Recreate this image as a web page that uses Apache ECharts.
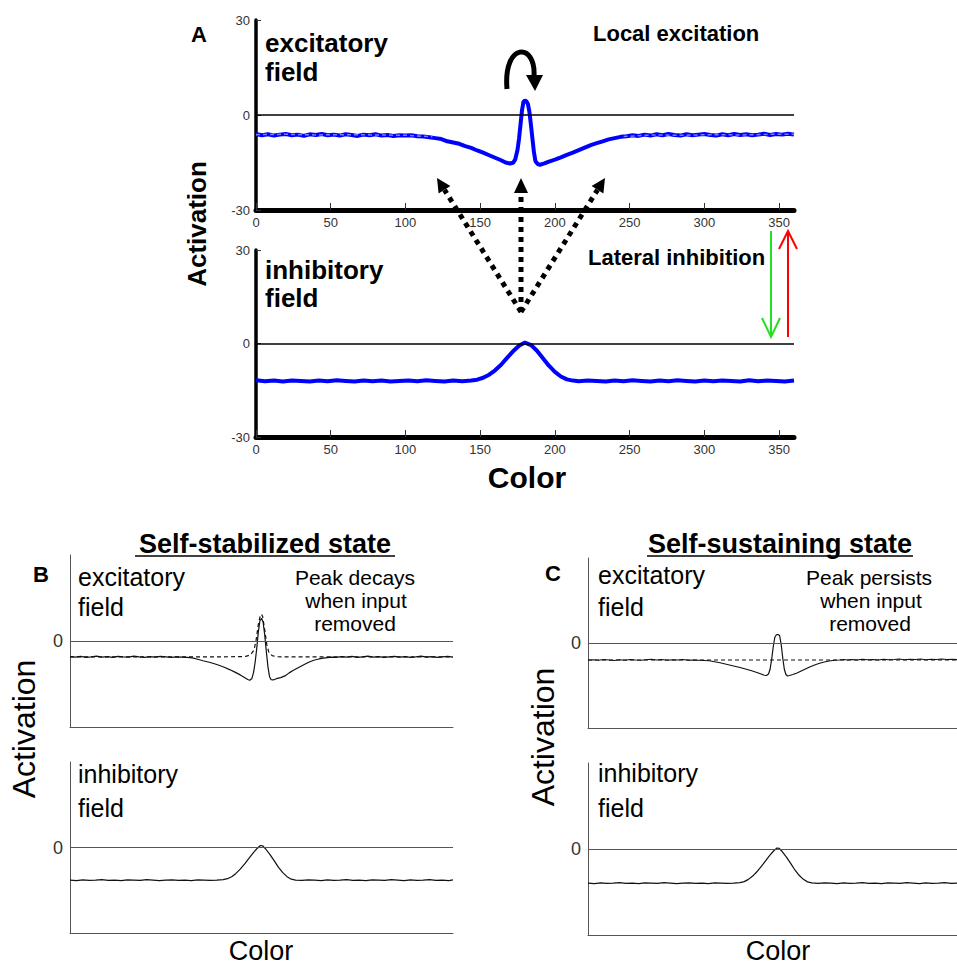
<!DOCTYPE html>
<html>
<head>
<meta charset="utf-8">
<title>Dynamic field activation</title>
<script src="https://cdn.jsdelivr.net/npm/echarts@6/dist/echarts.min.js"></script>
<style>
  html, body { margin: 0; padding: 0; background: #ffffff; }
  #chart { width: 957px; height: 968px; }
</style>
</head>
<body>
<div id="chart"></div>
<script>
// Tick labels
const xTicks = [0, 50, 100, 150, 200, 250, 300, 350];
const yTicksA = [-30, 0, 30];

// Panel A – excitatory field (colour vs activation)
const aExcitatory = [[0,-6.0],[4,-6.4],[8,-6.1],[12,-6.5],[16,-6.2],[20,-6.0],[24,-6.4],[28,-6.2],[32,-6.6],[36,-6.1],[40,-6.3],[44,-6.0],[48,-6.4],[52,-6.2],[56,-6.5],[60,-6.1],[64,-6.3],[68,-6.6],[72,-6.2],[76,-6.4],[80,-6.1],[84,-6.5],[88,-6.3],[92,-6.6],[96,-6.4],[100,-6.5],[104,-6.4],[108,-6.7],[112,-6.8],[116,-7.0],[120,-7.3],[124,-7.6],[128,-8.3],[132,-8.7],[136,-9.1],[140,-9.8],[144,-10.4],[148,-11.2],[152,-11.9],[156,-12.7],[160,-13.5],[164,-14.3],[167,-15.0],[170,-15.3],[172,-15.1],[173.5,-14.0],[175,-11.0],[176,-7.5],[177,-3.0],[178,1.5],[179,4.2],[180,4.6],[181,4.3],[182,3.4],[183,0.8],[184,-3.2],[185,-7.6],[186,-11.8],[187,-14.6],[188.5,-15.5],[190,-15.7],[193,-15.3],[196,-14.7],[200,-14.1],[204,-13.4],[208,-12.6],[212,-11.9],[216,-11.1],[220,-10.3],[224,-9.5],[228,-8.9],[232,-8.3],[236,-7.7],[240,-7.3],[244,-6.9],[248,-6.7],[252,-6.4],[256,-6.6],[260,-6.2],[264,-6.5],[268,-6.1],[272,-6.4],[276,-6.0],[280,-6.3],[284,-6.5],[288,-6.1],[292,-6.4],[296,-6.2],[300,-6.0],[304,-6.3],[308,-6.5],[312,-6.1],[316,-6.4],[320,-6.0],[324,-6.3],[328,-6.1],[332,-6.4],[336,-6.2],[340,-5.9],[344,-6.3],[348,-6.0],[352,-6.2],[356,-5.9],[360,-6.2]];
// Resting level trace, shown where it is not hidden by the peak
const aResting = [[0,-6.2],[20,-6.1],[40,-6.3],[60,-6.2],[80,-6.3],[100,-6.4],[118,-6.9],[180,'-'],[246,-6.8],[265,-6.3],[285,-6.4],[305,-6.2],[325,-6.3],[345,-6.1],[360,-6.1]];
// Panel A – inhibitory field
const aInhibitory = [[0,-11.8],[6,-12.1],[12,-11.9],[18,-12.2],[24,-11.9],[30,-12.0],[36,-12.2],[42,-11.9],[48,-12.1],[54,-11.8],[60,-12.0],[66,-12.2],[72,-11.9],[78,-12.1],[84,-11.9],[90,-12.2],[96,-12.0],[102,-11.9],[108,-12.1],[114,-11.8],[120,-12.0],[126,-12.2],[132,-11.9],[138,-12.1],[144,-11.9],[148,-11.6],[152,-11.0],[156,-10.0],[160,-8.6],[164,-6.8],[168,-4.6],[172,-2.5],[176,-0.7],[180,0.3],[184,-0.5],[188,-2.3],[192,-4.7],[196,-7.1],[200,-9.1],[204,-10.6],[208,-11.5],[212,-11.9],[216,-12.1],[222,-11.9],[228,-12.0],[234,-12.2],[240,-11.9],[246,-12.1],[252,-11.8],[258,-12.0],[264,-12.2],[270,-11.9],[276,-12.1],[282,-11.8],[288,-12.0],[294,-12.2],[300,-11.9],[306,-12.1],[312,-11.9],[318,-12.0],[324,-12.2],[330,-11.8],[336,-12.1],[342,-11.9],[348,-12.0],[354,-12.2],[360,-11.9]];

// Panel B – self-stabilized state
const bExcitatory = [[0,-6.2],[5,-6.4],[10,-6.1],[15,-6.5],[20,-6.3],[25,-6.0],[30,-6.4],[35,-6.2],[40,-6.5],[45,-6.1],[50,-6.3],[55,-6.4],[60,-6.0],[65,-6.3],[70,-6.5],[75,-6.2],[80,-6.4],[85,-6.1],[90,-6.3],[95,-6.5],[100,-6.3],[105,-6.4],[110,-6.5],[115,-6.7],[120,-7.2],[125,-7.8],[130,-8.3],[135,-8.9],[140,-9.6],[145,-10.4],[150,-11.3],[155,-12.3],[160,-13.4],[164,-14.4],[167,-15.2],[169,-15.5],[171,-14.8],[172.5,-12.5],[174,-8.5],[175.5,-3.0],[177,3.5],[178.5,8.0],[180,9.0],[181.5,7.5],[183,2.5],[184.5,-4.0],[186,-10.0],[187.5,-14.0],[189,-15.3],[191,-15.4],[194,-14.9],[198,-14.5],[202,-13.8],[206,-12.6],[210,-11.6],[214,-10.7],[218,-9.8],[222,-8.9],[226,-8.1],[230,-7.5],[234,-7.1],[238,-6.8],[242,-6.6],[246,-6.4],[250,-6.5],[255,-6.2],[260,-6.4],[265,-6.1],[270,-6.5],[275,-6.3],[280,-6.0],[285,-6.4],[290,-6.2],[295,-6.5],[300,-6.3],[305,-6.1],[310,-6.4],[315,-6.2],[320,-6.5],[325,-6.3],[330,-6.0],[335,-6.4],[340,-6.2],[345,-6.5],[350,-6.3],[355,-6.1],[360,-6.4]];
const bWithoutInput = [[0,-6.3],[40,-6.3],[80,-6.3],[120,-6.3],[160,-6.2],[166,-6.0],[170,-5.4],[173,-3.5],[175,0.5],[177,6.5],[179,10.3],[180,10.6],[181,9.8],[183,4.5],[185,-1.5],[187,-4.6],[190,-5.8],[194,-6.2],[200,-6.3],[240,-6.3],[280,-6.3],[320,-6.3],[360,-6.3]];
const bInhibitory = [[0,-13.0],[6,-13.2],[12,-12.9],[18,-13.1],[24,-13.0],[30,-12.8],[36,-13.1],[42,-13.0],[48,-13.2],[54,-12.9],[60,-13.0],[66,-13.1],[72,-12.8],[78,-13.0],[84,-13.2],[90,-13.0],[96,-12.9],[102,-13.1],[108,-13.0],[114,-13.2],[120,-12.9],[126,-13.0],[132,-13.1],[138,-13.0],[144,-12.8],[148,-12.4],[152,-11.6],[156,-10.3],[160,-8.6],[164,-6.6],[168,-4.4],[172,-2.2],[176,-0.3],[179,0.8],[181,0.7],[184,-0.6],[188,-2.8],[192,-5.3],[196,-7.9],[200,-10.0],[204,-11.6],[208,-12.6],[212,-13.0],[218,-13.1],[224,-12.9],[230,-13.0],[236,-13.2],[242,-12.9],[248,-13.1],[254,-13.0],[260,-12.8],[266,-13.1],[272,-13.0],[278,-13.2],[284,-12.9],[290,-13.0],[296,-13.1],[302,-12.8],[308,-13.0],[314,-13.2],[320,-12.9],[326,-13.1],[332,-13.0],[338,-12.8],[344,-13.1],[350,-13.0],[356,-13.2],[360,-12.9]];

// Panel C – self-sustaining state
const cExcitatory = [[0,-6.9],[5,-6.7],[10,-6.9],[15,-6.6],[20,-6.8],[25,-7.0],[30,-6.7],[35,-6.9],[40,-6.6],[45,-6.8],[50,-6.9],[55,-6.7],[60,-6.5],[65,-6.8],[70,-6.6],[75,-6.9],[80,-6.7],[85,-6.8],[90,-6.6],[95,-6.9],[100,-6.8],[105,-6.9],[110,-7.0],[115,-7.1],[120,-7.5],[125,-7.9],[130,-8.4],[135,-8.9],[140,-9.4],[145,-9.9],[150,-10.5],[155,-11.1],[160,-11.8],[164,-12.4],[167,-12.9],[169,-13.0],[171,-12.4],[172.5,-10.5],[174,-6.5],[175.5,-1.5],[177,2.3],[178.5,3.3],[180,3.4],[181.5,3.0],[183,-0.5],[184.5,-6.0],[186,-10.5],[187.5,-12.6],[189,-13.2],[191,-13.0],[194,-12.6],[198,-12.0],[202,-11.2],[206,-10.4],[210,-9.6],[214,-8.9],[218,-8.3],[222,-7.8],[226,-7.4],[230,-7.1],[234,-6.9],[238,-6.8],[242,-6.6],[246,-6.8],[250,-6.6],[255,-6.8],[260,-6.5],[265,-6.7],[270,-6.6],[275,-6.8],[280,-6.5],[285,-6.7],[290,-6.6],[295,-6.4],[300,-6.7],[305,-6.5],[310,-6.6],[315,-6.4],[320,-6.7],[325,-6.5],[330,-6.6],[335,-6.4],[340,-6.6],[345,-6.5],[350,-6.7],[355,-6.5],[360,-6.6]];
const cWithoutInput = [[0,-6.8],[60,-6.8],[120,-6.8],[180,-6.8],[240,-6.8],[300,-6.8],[360,-6.8]];
const cInhibitory = [[0,-13.5],[6,-13.7],[12,-13.4],[18,-13.6],[24,-13.5],[30,-13.3],[36,-13.6],[42,-13.5],[48,-13.7],[54,-13.4],[60,-13.5],[66,-13.6],[72,-13.3],[78,-13.5],[84,-13.7],[90,-13.5],[96,-13.4],[102,-13.6],[108,-13.5],[114,-13.7],[120,-13.4],[126,-13.5],[132,-13.6],[138,-13.5],[144,-13.3],[148,-12.9],[152,-12.0],[156,-10.7],[160,-9.0],[164,-7.0],[168,-4.8],[172,-2.6],[176,-0.7],[179,0.4],[181,0.3],[184,-1.0],[188,-3.2],[192,-5.7],[196,-8.3],[200,-10.4],[204,-12.0],[208,-13.0],[212,-13.4],[218,-13.6],[224,-13.4],[230,-13.5],[236,-13.7],[242,-13.4],[248,-13.6],[254,-13.5],[260,-13.3],[266,-13.6],[272,-13.5],[278,-13.7],[284,-13.4],[290,-13.5],[296,-13.6],[302,-13.3],[308,-13.5],[314,-13.7],[320,-13.4],[326,-13.6],[332,-13.5],[338,-13.3],[344,-13.6],[350,-13.5],[356,-13.7],[360,-13.4]];

const FONT = 'Arial, "Liberation Sans", Helvetica, sans-serif';
const chart = echarts.init(document.getElementById('chart'), null, { renderer: 'svg' });

// Plot boxes: two large fields on top, two small stacked pairs below
const grids = [
  { left: 256, top: 20,  width: 538, height: 190 },
  { left: 256, top: 250, width: 538, height: 187 },
  { left: 70,  top: 555, width: 383, height: 172 },
  { left: 70,  top: 762, width: 383, height: 171 },
  { left: 588, top: 558, width: 380, height: 170 },
  { left: 588, top: 763, width: 380, height: 172 }
].map(g => Object.assign({ outerBoundsMode: 'none', containLabel: false }, g));

function xAxisA(i) {
  return {
    type: 'value', gridIndex: i, min: 0, max: 360,
    axisLine: { show: true, onZero: false, lineStyle: { color: '#000', width: 5 } },
    axisTick: { show: true, inside: true, length: 7, customValues: xTicks, lineStyle: { color: '#333', width: 1 } },
    axisLabel: { show: true, customValues: xTicks, margin: 6, color: '#333', fontSize: 13, fontFamily: FONT },
    splitLine: { show: false }
  };
}
function yAxisA(i) {
  return {
    type: 'value', gridIndex: i, min: -30, max: 30,
    axisLine: { show: true, onZero: false, lineStyle: { color: '#000', width: 3.5 } },
    axisTick: { show: true, inside: true, length: 5, customValues: yTicksA, lineStyle: { color: '#333', width: 1 } },
    axisLabel: { show: true, customValues: yTicksA, margin: 6, color: '#333', fontSize: 13, fontFamily: FONT },
    splitLine: { show: false }
  };
}
function xAxisSmall(i) {
  return {
    type: 'value', gridIndex: i, min: 0, max: 360,
    axisLine: { show: true, onZero: false, lineStyle: { color: '#555', width: 1 } },
    axisTick: { show: false }, axisLabel: { show: false }, splitLine: { show: false }
  };
}
function yAxisSmall(i) {
  return {
    type: 'value', gridIndex: i, min: -34, max: 34,
    axisLine: { show: true, onZero: false, lineStyle: { color: '#555', width: 1 } },
    axisTick: { show: false },
    axisLabel: { show: true, customValues: [0], margin: 7, color: '#333', fontSize: 18, fontFamily: FONT },
    splitLine: { show: false }
  };
}

function zeroLine(color, width) {
  return {
    silent: true, symbol: ['none', 'none'], label: { show: false },
    emphasis: { disabled: true },
    lineStyle: { color: color, width: width, type: 'solid' },
    data: [{ yAxis: 0 }], animation: false
  };
}

function line(data, idx, color, width, dashed, mark) {
  const s = {
    type: 'line', data: data, xAxisIndex: idx, yAxisIndex: idx,
    showSymbol: false, symbol: 'none', animation: false, silent: true,
    lineStyle: { color: color, width: width, type: dashed ? [4, 3] : 'solid' },
    emphasis: { disabled: true }
  };
  if (mark) s.markLine = mark;
  return s;
}

// Text helpers for the annotations
function txt(text, x, y, font, align, extra) {
  const style = { text: text, x: 0, y: 0, font: font, fill: '#000', align: align || 'left', verticalAlign: 'middle' };
  return Object.assign({ type: 'text', x: x, y: y, z: 50, style: style }, extra || {});
}
const bold = s => 'bold ' + s + 'px ' + FONT;
const norm = s => s + 'px ' + FONT;

function seg(x1, y1, x2, y2, color, width, dash) {
  return {
    type: 'line', z: 60,
    shape: { x1: x1, y1: y1, x2: x2, y2: y2 },
    style: { stroke: color, lineWidth: width, lineDash: dash || null, lineCap: 'butt' }
  };
}
function head(points, color) {
  return { type: 'polygon', z: 60, shape: { points: points }, style: { fill: color } };
}
function openHead(points, color) {
  return { type: 'polyline', z: 60, shape: { points: points }, style: { stroke: color, lineWidth: 2, fill: null } };
}

const graphics = [
  // Panel A labels
  txt('A', 199, 34, bold(22), 'center'),
  txt('excitatory', 265, 43, bold(26)),
  txt('field', 265, 72, bold(26)),
  txt('Local excitation', 593, 33, bold(22)),
  txt('inhibitory', 265, 270, bold(26)),
  txt('field', 265, 298, bold(26)),
  txt('Lateral inhibition', 588, 257, bold(22)),
  txt('Activation', 197, 224, bold(26), 'center', { rotation: Math.PI / 2 }),
  txt('Color', 527, 477, bold(30), 'center'),

  // Self-excitation loop above the peak
  { type: 'bezierCurve', z: 60,
    shape: { x1: 507, y1: 89, cpx1: 503, cpy1: 42, cpx2: 536, cpy2: 42, x2: 534, y2: 76 },
    style: { stroke: '#000', lineWidth: 5, fill: null } },
  head([[526, 75], [543, 75], [535, 91]], '#000'),

  // Dotted projections from the inhibitory peak
  seg(521, 312, 444.5, 189.8, '#000', 5, [5, 5]),
  head([[437, 178], [450.4, 186.0], [438.6, 193.6]], '#000'),
  seg(521, 312, 521, 192, '#000', 5, [5, 5]),
  head([[521, 178], [514, 193], [528, 193]], '#000'),
  seg(521, 312, 597.5, 189.8, '#000', 5, [5, 5]),
  head([[605, 178], [603.4, 193.6], [591.6, 186.0]], '#000'),

  // Green / red coupling arrows
  seg(771, 231, 771, 336, '#22e022', 2),
  openHead([[762, 318], [771, 337], [780, 318]], '#22e022'),
  seg(788, 337, 788, 232, '#ff0000', 2),
  openHead([[779, 249], [788, 231], [797, 249]], '#ff0000'),

  // Panel B labels
  txt('Self-stabilized state', 265, 544, bold(27), 'center'),
  seg(135, 556, 395, 556, '#000', 1.6),
  txt('B', 41, 574, bold(22), 'center'),
  txt('excitatory', 78, 577, norm(25)),
  txt('field', 78, 607, norm(25)),
  txt('Peak decays', 355, 577, norm(21), 'center'),
  txt('when input', 356, 600, norm(21), 'center'),
  txt('removed', 355, 623, norm(21), 'center'),
  txt('Activation', 24, 729, norm(32), 'center', { rotation: Math.PI / 2 }),
  txt('inhibitory', 78, 774, norm(25)),
  txt('field', 78, 808, norm(25)),
  txt('Color', 261, 951, norm(27), 'center'),

  // Panel C labels
  txt('Self-sustaining state', 780, 544, bold(27), 'center'),
  seg(647, 556, 913, 556, '#000', 1.6),
  txt('C', 553, 573, bold(22), 'center'),
  txt('excitatory', 598, 575, norm(25)),
  txt('field', 598, 607, norm(25)),
  txt('Peak persists', 869, 577, norm(21), 'center'),
  txt('when input', 871, 600, norm(21), 'center'),
  txt('removed', 870, 623, norm(21), 'center'),
  txt('Activation', 543, 737, norm(32), 'center', { rotation: Math.PI / 2 }),
  txt('inhibitory', 598, 773, norm(25)),
  txt('field', 598, 808, norm(25)),
  txt('Color', 778, 951, norm(27), 'center')
];

const option = {
  backgroundColor: '#ffffff',
  animation: false,
  grid: grids,
  xAxis: [xAxisA(0), xAxisA(1), xAxisSmall(2), xAxisSmall(3), xAxisSmall(4), xAxisSmall(5)],
  yAxis: [yAxisA(0), yAxisA(1), yAxisSmall(2), yAxisSmall(3), yAxisSmall(4), yAxisSmall(5)],
  series: [
    line(aExcitatory, 0, '#0000ff', 4, false, zeroLine('#000', 1.5)),
    line(aResting, 0, '#7a7aff', 1.5, true),
    line(aInhibitory, 1, '#0000ff', 4, false, zeroLine('#000', 1.5)),
    line(bWithoutInput, 2, '#111', 1.2, true, zeroLine('#555', 1)),
    line(bExcitatory, 2, '#111', 1.2, false),
    line(bInhibitory, 3, '#111', 1.2, false, zeroLine('#555', 1)),
    line(cWithoutInput, 4, '#111', 1.2, true, zeroLine('#555', 1)),
    line(cExcitatory, 4, '#111', 1.2, false),
    line(cInhibitory, 5, '#111', 1.2, false, zeroLine('#555', 1))
  ],
  graphic: graphics
};

chart.setOption(option);
</script>
</body>
</html>
